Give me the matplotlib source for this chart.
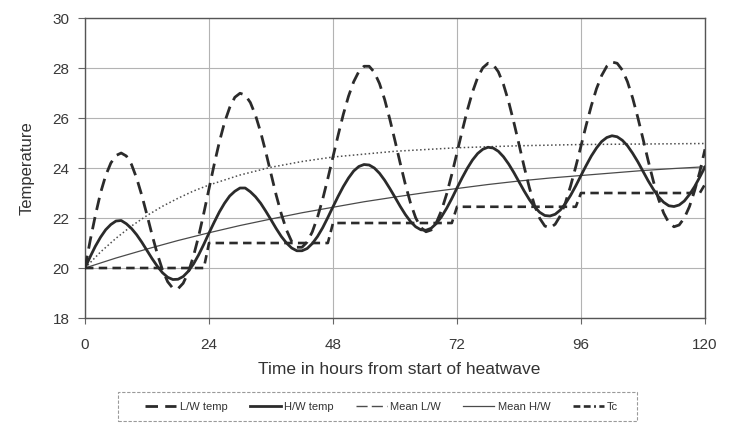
import matplotlib
matplotlib.use("Agg")
import matplotlib.pyplot as plt
from matplotlib.lines import Line2D
from matplotlib.patches import Rectangle
import numpy as np

# ---------------- data ----------------
hours = np.arange(0, 121)

lw_temp = [20.00, 21.10, 22.10, 23.00, 23.70, 24.20, 24.50, 24.60,
           24.48, 24.14, 23.59, 22.90, 22.12, 21.31, 20.56, 19.92, 19.45, 19.19,
           19.17, 19.39, 19.83, 20.48, 21.28, 22.20, 23.17, 24.14, 25.04, 25.82, 26.42, 26.83, 26.99,
           26.92, 26.62, 26.11, 25.43, 24.63, 23.77, 22.92, 22.16, 21.52, 21.06, 20.83,
           20.83, 21.04, 21.45, 22.03, 22.75, 23.58, 24.45, 25.32, 26.15, 26.87, 27.45, 27.86, 28.07,
           28.07, 27.83, 27.38, 26.74, 25.95, 25.09, 24.20, 23.35, 22.60, 22.01, 21.62, 21.45,
           21.52, 21.81, 22.30, 22.96, 23.75, 24.61, 25.48, 26.31, 27.04, 27.62, 28.01, 28.19,
           28.14, 27.85, 27.34, 26.65, 25.83, 24.95, 24.05, 23.22, 22.51, 21.99, 21.68,
           21.60, 21.75, 22.09, 22.62, 23.29, 24.06, 24.88, 25.71, 26.49, 27.17, 27.70, 28.07, 28.24,
           28.19, 27.92, 27.45, 26.80, 26.02, 25.17, 24.30, 23.48, 22.76, 22.20, 21.81, 21.65,
           21.72, 22.00, 22.46, 23.10, 23.85, 24.75]

hw_temp = [20.00, 20.45, 20.87, 21.23, 21.53, 21.74, 21.88, 21.90, 21.77, 21.58, 21.33, 21.03,
           20.70, 20.37, 20.07, 19.81, 19.63, 19.54, 19.55, 19.66, 19.87, 20.16, 20.53, 20.95,
           21.40, 21.83, 22.24, 22.59, 22.88, 23.07, 23.20, 23.20, 23.05, 22.85, 22.59, 22.27,
           21.93, 21.58, 21.26, 21.00, 20.80, 20.69, 20.69, 20.78, 20.98, 21.26, 21.61, 22.02,
           22.45, 22.87, 23.26, 23.60, 23.88, 24.06, 24.14, 24.12, 24.00, 23.79, 23.51, 23.18,
           22.83, 22.47, 22.14, 21.86, 21.65, 21.53, 21.51, 21.59, 21.78, 22.05, 22.39, 22.78,
           23.20, 23.61, 23.99, 24.32, 24.58, 24.75, 24.83, 24.80, 24.67, 24.45, 24.16, 23.82,
           23.45, 23.08, 22.74, 22.45, 22.23, 22.10, 22.08, 22.15, 22.32, 22.58, 22.91, 23.29,
           23.70, 24.10, 24.48, 24.80, 25.06, 25.22, 25.29, 25.25, 25.11, 24.89, 24.59, 24.25,
           23.87, 23.49, 23.15, 22.85, 22.63, 22.49, 22.46, 22.52, 22.68, 22.94, 23.26, 23.64,
           24.04]

mean_hw_hours = [0, 6, 12, 18, 24, 30, 36, 42, 48, 54, 60, 66, 72, 78, 84, 90, 96, 102, 108, 114, 120]
mean_hw = [20.00, 20.40, 20.76, 21.10, 21.41, 21.70, 21.96, 22.21, 22.43, 22.65, 22.84,
           23.02, 23.18, 23.34, 23.48, 23.60, 23.70, 23.80, 23.90, 23.98, 24.05]

mean_lw_hours = [0, 3, 6, 9, 12, 15, 18, 21, 24, 30, 36, 42, 48, 60, 72, 84, 96, 108, 120]
mean_lw = [20.00, 20.64, 21.19, 21.68, 22.10, 22.47, 22.79, 23.08, 23.32, 23.72, 24.03,
           24.26, 24.44, 24.67, 24.81, 24.89, 24.94, 24.96, 24.98]

tc_hours = [0, 23, 24, 47, 48, 71, 72, 95, 96, 119, 120]
tc = [20.0, 20.0, 21.0, 21.0, 21.8, 21.8, 22.45, 22.45, 23.0, 23.0, 23.35]

x_ticks = [0, 24, 48, 72, 96, 120]
y_ticks = [18, 20, 22, 24, 26, 28, 30]
series_labels = ["L/W temp", "H/W temp", "Mean L/W", "Mean H/W", "Tc"]

# ---------------- figure ----------------
plt.rcParams['font.family'] = ['Liberation Sans', 'DejaVu Sans']
fig = plt.figure(figsize=(7.31, 4.26), dpi=100)
ax = fig.add_axes([0.1163, 0.2535, 0.8481, 0.7042])

dark = '#2b2b2b'
ax.plot(hours, lw_temp, color=dark, lw=2.0, dashes=(4.5, 2.6), zorder=4)
ax.plot(hours, hw_temp, color=dark, lw=2.0, zorder=5)
ax.plot(mean_lw_hours, mean_lw, color='#4d4d4d', lw=1.1, dashes=(1.0, 1.6), zorder=3)
ax.plot(mean_hw_hours, mean_hw, color='#4a4a4a', lw=0.9, zorder=3)
ax.plot(tc_hours, tc, color=dark, lw=1.9, dashes=(3.2, 2.0), zorder=4)

ax.set_xlim(0, 120)
ax.set_ylim(18, 30)
ax.set_xticks(x_ticks)
ax.set_yticks(y_ticks)
ax.grid(True, color='#b3b3b3', lw=0.8, zorder=0)
ax.set_axisbelow(True)
for s in ax.spines.values():
    s.set_color('#555555')
    s.set_linewidth(1.0)

ax.tick_params(axis='x', direction='out', length=4, width=0.8, color='#666666',
               labelsize=11, labelcolor='#383838', pad=10.5)
ax.tick_params(axis='y', direction='out', length=5, width=0.8, color='#666666',
               labelsize=11, labelcolor='#383838', pad=6)

ax.set_xlabel("Time in hours from start of heatwave", fontsize=12.5, color='#333333')
ax.xaxis.set_label_coords(0.506, -0.148)
ax.set_ylabel("Temperature", fontsize=12, color='#333333')
ax.yaxis.set_label_coords(-0.082, 0.5)

# legend proxies (styles as shown in the reference key)
handles = [
    Line2D([], [], color=dark, lw=2.0, dashes=(4.5, 2.6)),
    Line2D([], [], color=dark, lw=2.0),
    Line2D([], [], color='#4d4d4d', lw=1.0, dashes=(8, 3)),
    Line2D([], [], color='#4a4a4a', lw=0.9),
    Line2D([], [], color=dark, lw=1.9, dashes=(2.6, 1.3, 2.6, 1.3, 0.7, 1.3)),
]
leg = fig.legend(handles, series_labels, loc='center', bbox_to_anchor=(0.522, 1 - 406.5 / 426),
                 ncol=5, fontsize=8, frameon=False,
                 handlelength=2.8, handletextpad=0.3, columnspacing=2.0,
                 borderpad=0.3, labelcolor='#333333')

# legend frame
fig.patches.append(Rectangle((118 / 731, 1 - 421 / 426), 519 / 731, 29 / 426,
                             transform=fig.transFigure, fill=False,
                             edgecolor='#9a9a9a', lw=0.8, ls=(0, (3, 1.5))))

fig.savefig("out.png", dpi=100)
